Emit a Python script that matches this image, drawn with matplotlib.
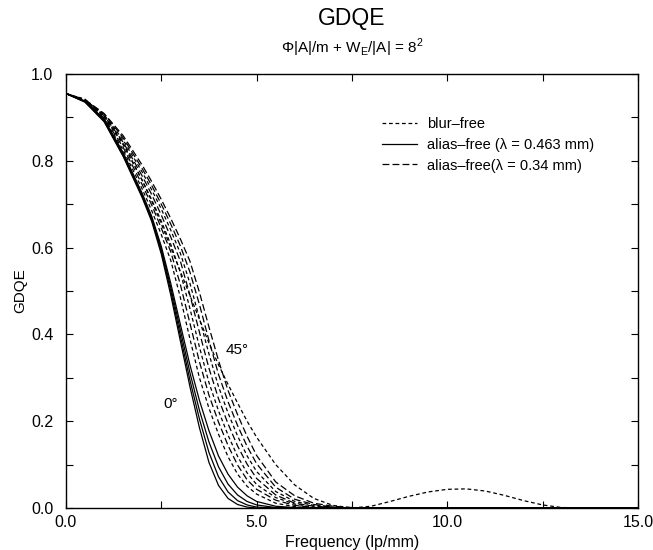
import matplotlib
matplotlib.use("Agg")
import matplotlib.pyplot as plt

plt.rcParams['font.family'] = ['Liberation Sans', 'DejaVu Sans']

# spatial frequency grid (lp/mm)
freq = [0.0, 0.5, 1.0, 1.5, 2.0, 2.25, 2.5, 2.75, 3.0, 3.25, 3.5, 3.75, 4.0, 4.25,
        4.5, 4.75, 5.0, 5.5, 6.0, 6.5, 7.0, 7.5, 8.0, 8.5, 9.0, 9.5, 10.0, 10.5,
        11.0, 11.5, 12.0, 12.5, 13.0, 14.0, 15.0]

# alias-free, lambda = 0.463 mm (solid), four directions
alias463_a = [0.955, 0.935, 0.89, 0.81, 0.715, 0.66, 0.585, 0.49, 0.385, 0.28, 0.185, 0.105,
              0.052, 0.022, 0.008, 0.002, 0.0] + [0.0] * 18
alias463_b = [0.955, 0.936, 0.892, 0.813, 0.718, 0.664, 0.591, 0.499, 0.397, 0.295, 0.205, 0.128,
              0.072, 0.037, 0.017, 0.007, 0.002, 0.0] + [0.0] * 17
alias463_c = [0.955, 0.937, 0.894, 0.816, 0.721, 0.668, 0.597, 0.508, 0.41, 0.312, 0.225, 0.152,
              0.095, 0.055, 0.03, 0.015, 0.007, 0.001, 0.0] + [0.0] * 16
alias463_d = [0.955, 0.938, 0.896, 0.819, 0.725, 0.672, 0.603, 0.517, 0.423, 0.33, 0.248, 0.178,
              0.12, 0.078, 0.048, 0.028, 0.015, 0.004, 0.001, 0.0] + [0.0] * 15

# blur-free (short dash)
blur_a = [0.955, 0.938, 0.897, 0.825, 0.735, 0.685, 0.63, 0.57, 0.485, 0.39, 0.30, 0.23,
          0.17, 0.118, 0.078, 0.05, 0.032, 0.011, 0.003, 0.0] + [0.0] * 15
blur_b = [0.955, 0.939, 0.902, 0.837, 0.755, 0.71, 0.661, 0.607, 0.543, 0.46, 0.371, 0.289,
          0.224, 0.168, 0.119, 0.081, 0.054, 0.024, 0.009, 0.002, 0.0] + [0.0] * 14
blur_c = [0.955, 0.94, 0.906, 0.848, 0.774, 0.733, 0.689, 0.64, 0.587, 0.518, 0.437, 0.355,
          0.28, 0.219, 0.166, 0.12, 0.084, 0.038, 0.015, 0.006, 0.0015, 0.0] + [0.0] * 13
blur_d = [0.955, 0.942, 0.903, 0.84, 0.755, 0.707, 0.655, 0.60, 0.545, 0.49, 0.435, 0.38,
          0.33, 0.285, 0.242, 0.20, 0.163, 0.10, 0.053, 0.022, 0.006, 0.0, 0.004, 0.015,
          0.027, 0.037, 0.043, 0.044, 0.039, 0.029, 0.017, 0.007, 0.001, 0.0, 0.0]

# alias-free, lambda = 0.34 mm (long dash)
alias34_a = [0.955, 0.938, 0.899, 0.831, 0.745, 0.698, 0.645, 0.59, 0.515, 0.426, 0.337, 0.26,
             0.198, 0.144, 0.099, 0.065, 0.043, 0.018, 0.006, 0.001, 0.0] + [0.0] * 14
alias34_b = [0.955, 0.939, 0.904, 0.843, 0.765, 0.722, 0.675, 0.624, 0.569, 0.491, 0.405, 0.322,
             0.252, 0.194, 0.143, 0.101, 0.068, 0.03, 0.011, 0.004, 0.001, 0.0] + [0.0] * 13
alias34_c = [0.955, 0.94, 0.908, 0.853, 0.782, 0.743, 0.70, 0.654, 0.604, 0.544, 0.469, 0.386,
             0.308, 0.245, 0.19, 0.142, 0.102, 0.048, 0.02, 0.008, 0.002, 0.0] + [0.0] * 13
alias34_d = [0.955, 0.941, 0.909, 0.858, 0.79, 0.752, 0.711, 0.667, 0.62, 0.569, 0.497, 0.417,
             0.34, 0.271, 0.215, 0.165, 0.121, 0.06, 0.028, 0.011, 0.004, 0.001, 0.0] + [0.0] * 12

short_dash = (0, (3.0, 2.2))
long_dash = (0, (5.5, 2.5))


def main():
    fig = plt.figure(figsize=(6.53, 5.5), dpi=100)
    ax = fig.add_axes([0.101, 0.0764, 0.876, 0.789])

    for g in [alias463_a, alias463_b, alias463_c, alias463_d]:
        ax.plot(freq, g, color='k', lw=0.9, ls='-')
    for g in [blur_a, blur_b, blur_c, blur_d]:
        ax.plot(freq, g, color='k', lw=0.9, ls=short_dash)
    for g in [alias34_a, alias34_b, alias34_c, alias34_d]:
        ax.plot(freq, g, color='k', lw=0.9, ls=long_dash)

    # legend handles
    h1, = ax.plot([], [], color='k', lw=0.9, ls=short_dash)
    h2, = ax.plot([], [], color='k', lw=0.9, ls='-')
    h3, = ax.plot([], [], color='k', lw=0.9, ls=long_dash)
    ax.legend([h1, h2, h3],
              ['blur–free', 'alias–free (λ = 0.463 mm)', 'alias–free(λ = 0.34 mm)'],
              loc='upper left', bbox_to_anchor=(0.552, 0.9), frameon=False,
              fontsize=10.5, handlelength=2.45, handletextpad=0.65, labelspacing=0.45,
              borderaxespad=0.0, borderpad=0.0)

    ax.text(4.2, 0.364, '45°', fontsize=11, ha='left', va='center')
    ax.text(2.55, 0.24, '0°', fontsize=11, ha='left', va='center')

    ax.set_xlim(0, 15)
    ax.set_ylim(0, 1.0)
    ax.set_xticks([0, 2.5, 5, 7.5, 10, 12.5, 15])
    ax.set_xticklabels(['0.0', '', '5.0', '', '10.0', '', '15.0'])
    ax.set_yticks([0, 0.1, 0.2, 0.3, 0.4, 0.5, 0.6, 0.7, 0.8, 0.9, 1.0])
    ax.set_yticklabels(['0.0', '', '0.2', '', '0.4', '', '0.6', '', '0.8', '', '1.0'])
    ax.tick_params(direction='in', top=True, right=True, length=5, width=0.8,
                   labelsize=11.5)
    ax.tick_params(axis='y', pad=9)
    ax.tick_params(axis='x', pad=5)
    for s in ax.spines.values():
        s.set_linewidth(1.0)

    ax.set_xlabel('Frequency (lp/mm)', fontsize=11.5, labelpad=4)
    ax.set_ylabel('GDQE', fontsize=11, labelpad=3)

    fig.text(0.539, 0.967, 'GDQE', fontsize=16.5, ha='center', va='center')
    fig.text(0.539, 0.913, r'Φ|A|/m + W$_\mathregular{E}$/|A| = 8$^\mathregular{2}$',
             fontsize=11, ha='center', va='center')

    fig.savefig('out.png', dpi=100)


if __name__ == "__main__":
    main()
